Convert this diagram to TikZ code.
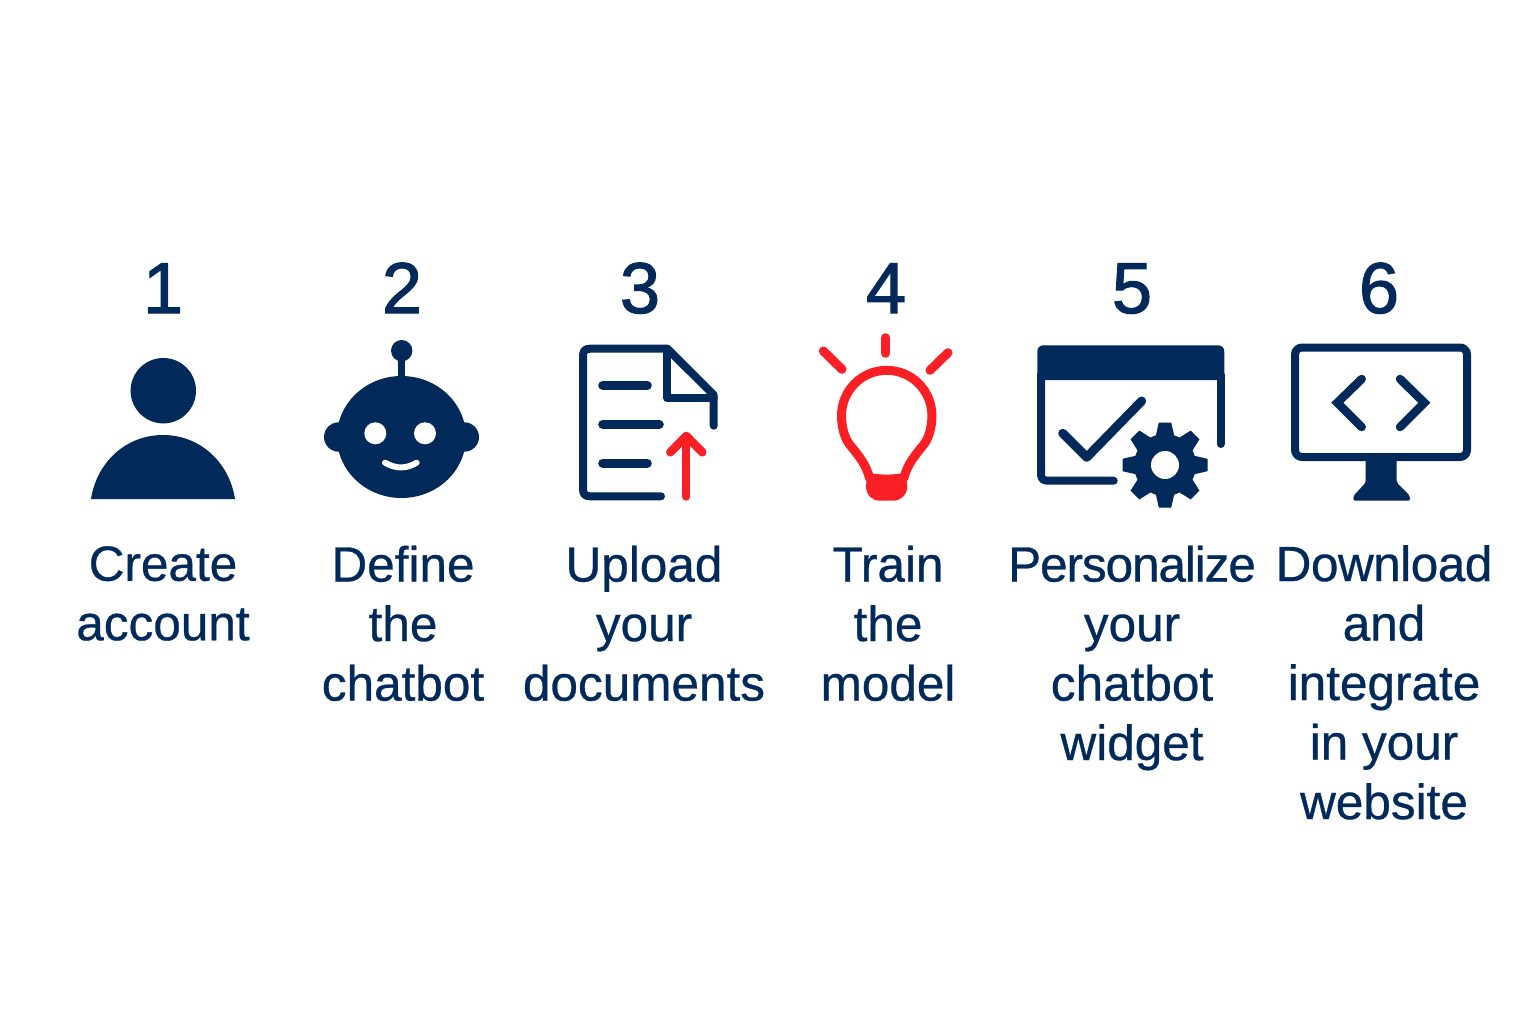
\documentclass[tikz,border=0pt]{standalone}
\usepackage{fontspec}
\setmainfont[FakeBold=0.6]{Liberation Sans}
\newfontfamily\numfont[FakeBold=1.6]{Liberation Sans}
\definecolor{navy}{HTML}{012A5A}
\definecolor{alert}{HTML}{F91F24}
\tikzset{
  x=1pt,y=-1pt,
  numlabel/.style={text=navy,font=\numfont\fontsize{72}{72}\selectfont,anchor=base,inner sep=0pt},
  steplabel/.style={text=navy,font=\fontsize{49.5}{59.5}\selectfont,anchor=north,align=center,inner sep=0pt},
  navyline/.style={draw=navy,line cap=round,line join=round,line width=#1},
  redline/.style={draw=alert,line cap=round,line join=round,line width=#1},
}
\newcommand{\fl}{\vphantom{Ag}}
\begin{document}
\begin{tikzpicture}
\useasboundingbox (0,0) rectangle (1536,1024);
\fill[white] (0,0) rectangle (1536,1024);
% numbers
\node[numlabel] (n1) at (163,313) {1};
\node[numlabel] (n2) at (402,313) {2};
\node[numlabel] (n3) at (640,313) {3};
\node[numlabel] (n4) at (886,313) {4};
\node[numlabel] (n5) at (1132,313) {5};
\node[numlabel] (n6) at (1379,313) {6};
% labels
\node[steplabel] (l1) at (163,546) {\fl Create\\account};
\node[steplabel] (l2) at (403,545.5) {\fl Define\\the\\chatbot};
\node[steplabel] (l3) at (644,545.5) {\fl Upload\\your\\documents};
\node[steplabel] (l4) at (888,545.5) {\fl Train\\the\\model};
\node[steplabel] (l5) at (1132,545.5) {\fl {\addfontfeatures{LetterSpace=-2.2}Personalize}\\your\\chatbot\\widget};
\node[steplabel] (l6) at (1384,545) {\fl {\addfontfeatures{LetterSpace=-1}Download}\\and\\integrate\\in your\\website};
% person
\fill[navy] (163.3,390.7) circle [radius=32.7];
\fill[navy] (91,499) .. controls (97,461) and (127,435) .. (163,435) .. controls (199,435) and (229,461) .. (235,499) -- cycle;
% robot
\fill[navy] (401.5,437) ellipse [x radius=64.5,y radius=61];
\fill[navy] (338.7,437) circle [radius=14.7];
\fill[navy] (464.3,437) circle [radius=14.7];
\fill[navy] (401.7,350.7) circle [radius=10.7];
\fill[navy] (398,352) rectangle (405.4,380);
\fill[white] (375.3,433.3) circle [radius=11];
\fill[white] (425,433.3) circle [radius=11];
\draw[draw=white,line cap=round,line width=6] (385,462.7) .. controls (396,469) and (406,469) .. (416.7,462.7);
% document
\draw[navyline=8] (661,496.3) -- (590,496.3) .. controls (585,496.3) and (583,494) .. (583,489) -- (583,356) .. controls (583,351) and (585,348.7) .. (590,348.7) -- (667.3,348.7) -- (713.7,395) -- (713.7,425.7);
\draw[navyline=8] (667.3,348.7) -- (667.3,398.3) -- (713.7,398.3);
\draw[navyline=9] (602.7,385.3) -- (647.3,385.3);
\draw[navyline=9] (602.7,424.3) -- (659.3,424.3);
\draw[navyline=9] (602.7,463.3) -- (647.3,463.3);
\draw[redline=8] (686.3,496.7) -- (686.3,436);
\draw[redline=8.5] (670.3,452.3) -- (686.3,436) -- (702.3,452.3);
% bulb
\draw[redline=9] (869.5,478) .. controls (866,464) and (858,455) .. (850,445) .. controls (845,439) and (841.5,428) .. (841.5,415.7) .. controls (841.5,390.6) and (861.7,370.3) .. (886.7,370.3) .. controls (911.7,370.3) and (931.9,390.6) .. (931.9,415.7) .. controls (931.9,428) and (928.4,439) .. (923.4,445) .. controls (915.4,455) and (907.4,464) .. (903.9,478);
\fill[alert] (871.7,473.3) .. controls (881,475) and (892,475) .. (901.7,473.3) -- (906,475) -- (907.3,487) .. controls (907,495) and (901,500.7) .. (893,500.7) -- (880,500.7) .. controls (872,500.7) and (866.3,495) .. (866,487) -- (867,475) -- cycle;
\draw[redline=9] (885.7,337.7) -- (885.7,353.3);
\draw[redline=9] (823.3,351) -- (842,369.3);
\draw[redline=9] (948,352.7) -- (930,370.3);
% window
\fill[navy] (1037.3,380) -- (1037.3,352) .. controls (1037.3,347.5) and (1039.5,345.3) .. (1044,345.3) -- (1217.5,345.3) .. controls (1222,345.3) and (1224.3,347.5) .. (1224.3,352) -- (1224.3,380) -- cycle;
\draw[navyline=8] (1041,375) -- (1041,474) .. controls (1041,478.7) and (1043,480.7) .. (1048,480.7) -- (1113.7,480.7);
\draw[navyline=8] (1220.7,375) -- (1220.7,444);
\draw[navyline=9] (1062.7,433.3) -- (1086.7,457.3) -- (1141.7,401);
% gear
\fill[navy] (1165,465) circle [radius=31];
\foreach \a in {0,45,...,315}{
  \fill[navy,shift={(1165,465)},rotate=\a] (-9.5,-28) -- (-6.2,-42.5) -- (6.2,-42.5) -- (9.5,-28) -- cycle;
}
\fill[white] (1165,465) circle [radius=14];
% monitor
\draw[navyline=8,rounded corners=7] (1295,347.5) rectangle (1467,457);
\draw[navyline=8.5,line join=miter] (1361.7,379) -- (1337.3,402.7) -- (1361.7,427);
\draw[navyline=8.5,line join=miter] (1400,379) -- (1424.3,402.7) -- (1400,427);
\fill[navy,rounded corners=2] (1365.7,458) -- (1396.7,458) -- (1396.7,482.7) -- (1410,496) -- (1410,500.7) -- (1353.3,500.7) -- (1353.3,496) -- (1365.7,482.7) -- cycle;
\end{tikzpicture}
\end{document}
